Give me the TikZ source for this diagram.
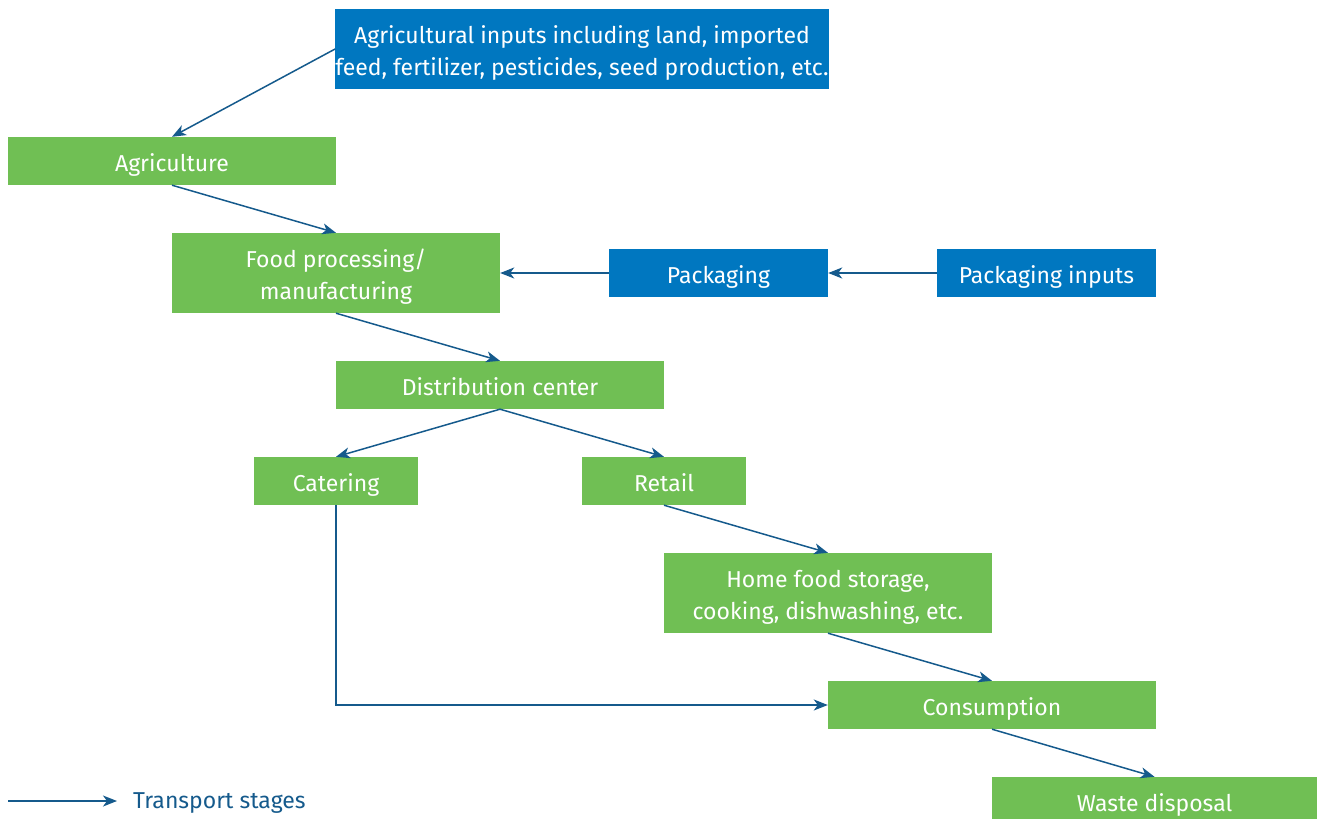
\documentclass[tikz,border=0pt]{standalone}
\usepackage{fontspec}
\setmainfont{Fira Sans}
\usetikzlibrary{arrows.meta}
\definecolor{boxgreen}{HTML}{70BF54}
\definecolor{boxblue}{HTML}{0077C0}
\definecolor{arrowblue}{HTML}{155A8C}
\newcommand{\firstline}{\rule{0pt}{26pt}}
\begin{document}
\begin{tikzpicture}[x=1pt,y=-1pt,
  box/.style={fill=boxgreen,draw=none,text=white,inner sep=0pt,align=center,
    font=\fontsize{23}{32}\selectfont,execute at begin node={\rule[-6pt]{0pt}{32pt}}},
  bbox/.style={box,fill=boxblue},
  flow/.style={draw=arrowblue,line width=1.5pt,-{Stealth[length=14pt,width=11pt,inset=4pt]}}]
\useasboundingbox (0,0) rectangle (1317,819);
\node[bbox,minimum width=492pt,minimum height=80pt] (inputs) at (582,49) {\firstline Agricultural inputs including land, imported\\feed, fertilizer, pesticides, seed production, etc.};
\node[box,minimum width=328pt,minimum height=48pt] (agri) at (172,161) {Agriculture};
\node[box,minimum width=328pt,minimum height=80pt] (food) at (336,273) {\firstline Food processing/\\manufacturing};
\node[bbox,minimum width=219pt,minimum height=48pt] (pack) at (718.5,273) {Packaging};
\node[bbox,minimum width=219pt,minimum height=48pt] (packin) at (1046.5,273) {Packaging inputs};
\node[box,minimum width=328pt,minimum height=48pt] (dist) at (500,385) {Distribution center};
\node[box,minimum width=164pt,minimum height=48pt] (cater) at (336,481) {Catering};
\node[box,minimum width=164pt,minimum height=48pt] (retail) at (664,481) {Retail};
\node[box,minimum width=328pt,minimum height=80pt] (home) at (828,593) {\firstline Home food storage,\\cooking, dishwashing, etc.};
\node[box,minimum width=328pt,minimum height=48pt] (cons) at (992,705) {Consumption};
\node[box,minimum width=325pt,minimum height=48pt] (waste) at (1154.5,801) {Waste disposal};
\draw[flow] (inputs.west) -- (agri.north);
\draw[flow] (agri.south) -- (food.north);
\draw[flow] (pack.west) -- (food.east);
\draw[flow] (packin.west) -- (pack.east);
\draw[flow] (food.south) -- (dist.north);
\draw[flow] (dist.south) -- (cater.north);
\draw[flow] (dist.south) -- (retail.north);
\draw[flow] (retail.south) -- (home.north);
\draw[flow] (home.south) -- (cons.north);
\draw[flow] (cons.south) -- (waste.north);
\draw[flow] (cater.south) |- (cons.west);
\coordinate (legA) at (8,801);
\node[anchor=west,inner sep=0pt,text=arrowblue,font=\fontsize{23}{26}\selectfont] (legtxt) at (133,803) {Transport stages};
\coordinate (legB) at (117,801);
\draw[flow] (legA) -- (legB);
\end{tikzpicture}
\end{document}
